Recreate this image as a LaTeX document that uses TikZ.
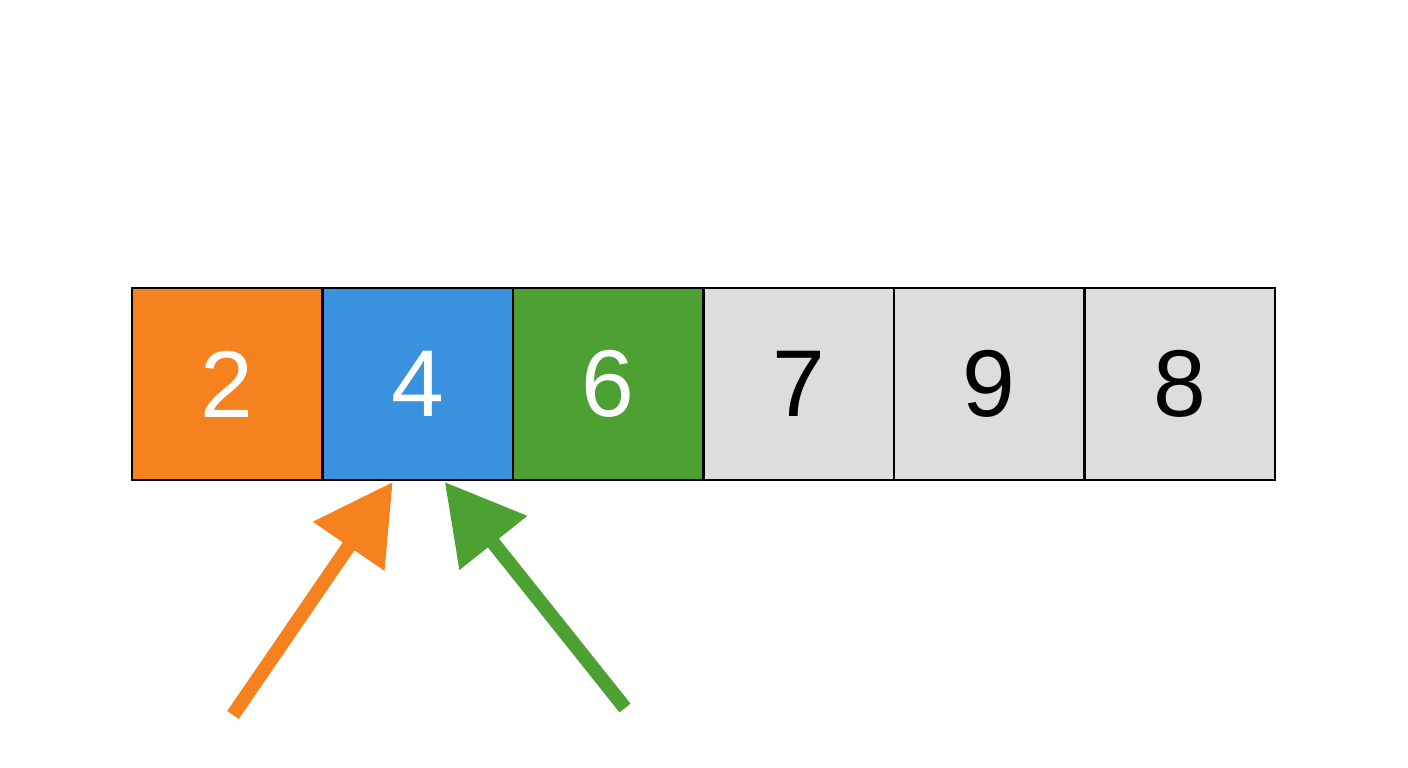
\documentclass[tikz,border=0pt]{standalone}
\usepackage{fontspec}
\setmainfont{Liberation Sans}
\usetikzlibrary{arrows.meta}
\definecolor{cellorange}{HTML}{F5821F}
\definecolor{cellblue}{HTML}{3A92DE}
\definecolor{cellgreen}{HTML}{4DA032}
\definecolor{cellgrey}{HTML}{DDDDDD}
\tikzset{
node distance=1.905cm,
cell/.style={draw=black, line width=0.8pt, outer sep=0pt, inner sep=0pt,
  minimum width=1.905cm, minimum height=1.92cm,
  font=\fontsize{27}{30}\selectfont},
pointer/.style={line width=4pt, -{Triangle[length=7.8mm, width=8.3mm]}},
}

\begin{document}
\begin{tikzpicture}
        \useasboundingbox (0,0) rectangle (14.08,7.68);
        \node[cell, fill=cellorange, text=white] (c0) at (2.2725,3.84) {2};
        \node[cell, fill=cellblue, text=white, right of=c0] (c1) {4};
        \node[cell, fill=cellgreen, text=white, right of=c1] (c2) {6};
        \node[cell, fill=cellgrey, right of=c2] (c3) {7};
        \node[cell, fill=cellgrey, right of=c3] (c4) {9};
        \node[cell, fill=cellgrey, right of=c4] (c5) {8};

        \coordinate (lo) at (2.33,0.53);
        \coordinate (hi) at (6.25,0.60);

        \draw[pointer, cellorange] (lo) -- ([xshift=-0.25cm,yshift=-0.02cm]c1.south);
        \draw[pointer, cellgreen] (hi) -- ([xshift=0.27cm,yshift=-0.02cm]c1.south);
    \end{tikzpicture}
\end{document}
